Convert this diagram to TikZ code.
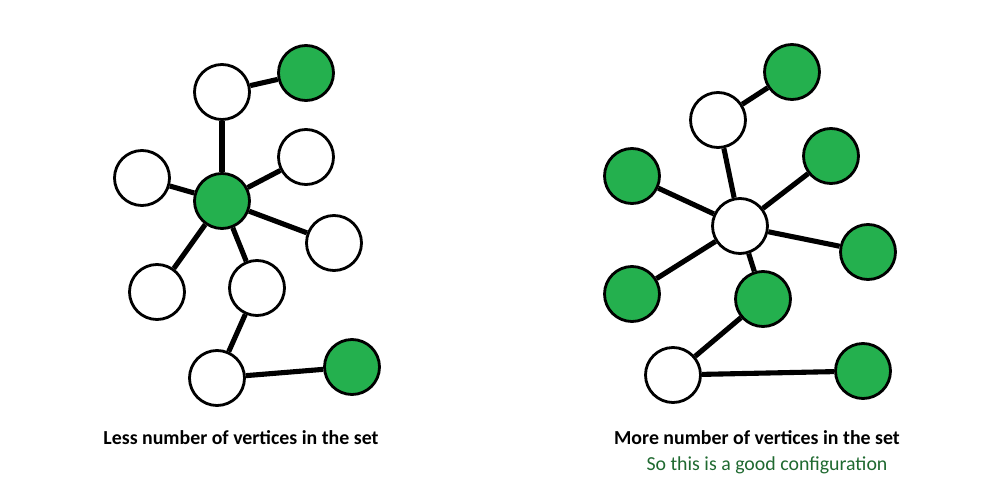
\documentclass[tikz,border=0pt]{standalone}
\usepackage{fontspec}
\setmainfont{Carlito}
\definecolor{vgreen}{RGB}{36,176,78}
\definecolor{tgreen}{RGB}{31,105,48}

\begin{document}
\begin{tikzpicture}
[x=0.02cm,y=-0.02cm,%
  every node/.style={shape=circle,minimum size=1.1cm,inner sep=0pt,draw,line width=1.6pt},%
  vw/.style={fill=white},%
  vg/.style={fill=vgreen},%
  txt/.style={draw=none,shape=rectangle,font=\bfseries\fontsize{11.3}{13}\selectfont},%
  edge/.style={line width=2.9pt}]
\useasboundingbox (0,0) rectangle (1000,500);
% left graph
\node[vw] (a) at (222,92) {};
\node[vg] (b) at (306,73) {};
\node[vg] (c) at (222,201) {};
\node[vw] (d) at (142,178) {};
\node[vw] (e) at (306,157) {};
\node[vw] (f) at (334,243) {};
\node[vw] (g) at (157,292) {};
\node[vw] (h) at (257,288) {};
\node[vw] (i) at (217,378) {};
\node[vg] (j) at (352,367) {};
\draw[edge] (a) -- (b);
\draw[edge] (a) -- (c);
\draw[edge] (c) -- (d);
\draw[edge] (c) -- (e);
\draw[edge] (c) -- (f);
\draw[edge] (c) -- (g);
\draw[edge] (c) -- (h);
\draw[edge] (h) -- (i);
\draw[edge] (i) -- (j);
% right graph
\node[vg] (p) at (792,72) {};
\node[vw] (q) at (718,120) {};
\node[vg] (r) at (831,156) {};
\node[vg] (s) at (632,176) {};
\node[vw] (t) at (740,226) {};
\node[vg] (u) at (868,252) {};
\node[vg] (v) at (632,294) {};
\node[vg] (w) at (763,299) {};
\node[vw] (x) at (673,375) {};
\node[vg] (y) at (863,371) {};
\draw[edge] (p) -- (q);
\draw[edge] (q) -- (t);
\draw[edge] (t) -- (s);
\draw[edge] (t) -- (r);
\draw[edge] (t) -- (u);
\draw[edge] (t) -- (v);
\draw[edge] (t) -- (w);
\draw[edge] (w) -- (x);
\draw[edge] (x) -- (y);
% captions
\node[txt] (lcap) at (241,438) {Less number of vertices in the set};
\node[txt] (rcap) at (757,438) {More number of vertices in the set};
\node[txt,font=\fontsize{11.3}{13}\selectfont,text=tgreen] (note) at (767,465) {So this is a good configuration};
\end{tikzpicture}
\end{document}
